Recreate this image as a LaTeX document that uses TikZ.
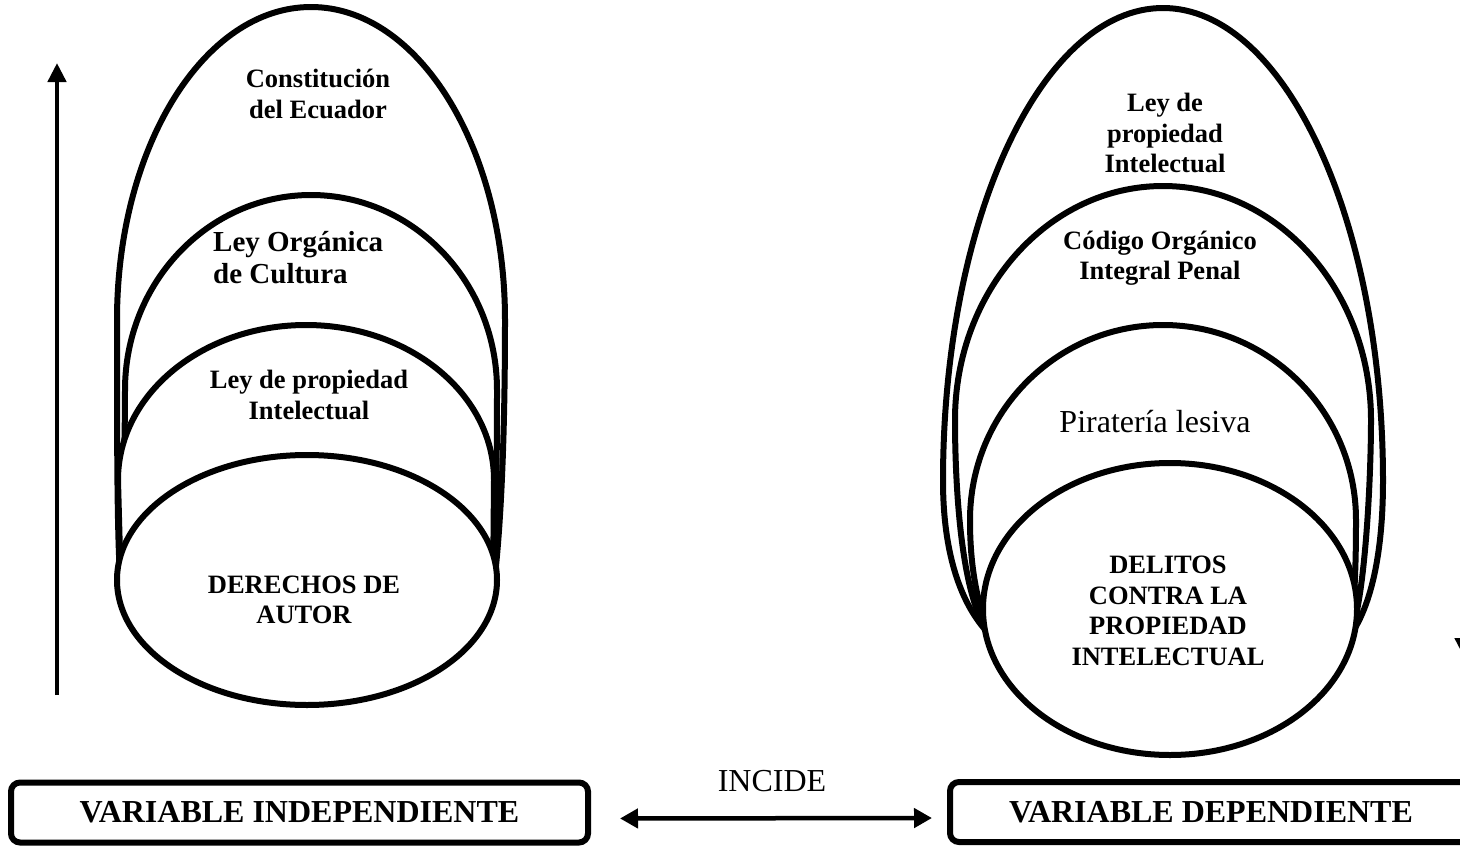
\documentclass[tikz,border=0pt]{standalone}
\usepackage{fontspec}
\setmainfont{Liberation Serif}
\usetikzlibrary{arrows.meta}

\begin{document}
\begin{tikzpicture}[x=1pt,y=-1pt]

\tikzset{shell/.style = {draw, fill=white, line width=6pt, line join=round}}
\tikzset{txt/.style = {align=center, inner sep=0pt, font=\fontsize{26.5}{30.5}\selectfont\bfseries}}
\tikzset{plain/.style = {inner sep=0pt, font=\fontsize{32}{36}\selectfont}}
\tikzset{varbox/.style = {draw, rounded corners=9pt, line width=6pt, minimum height=60pt, font=\fontsize{32}{36}\selectfont\bfseries}}
\tikzset{bigarrow/.style = {line width=4.5pt, -{Triangle[length=19pt,width=18pt]}}}

\useasboundingbox (0,0) rectangle (1460,846);
\clip (0,0) rectangle (1460,846);

%left shells
\draw[shell] (121,592) .. controls (117,540) and (117,450) .. (117,320) arc[start angle=180, end angle=0, x radius=194pt, y radius=313pt] .. controls (505,450) and (500,540) .. (493,592) -- cycle;
\draw[shell] (121,592) .. controls (121,540) and (125,460) .. (125,390) arc[start angle=180, end angle=0, x radius=186pt, y radius=195pt] .. controls (497,460) and (496,540) .. (493,592) -- cycle;
\draw[shell] (121,592) -- (118,480) arc[start angle=180, end angle=0, x radius=188pt, y radius=155pt] -- (493,592) -- cycle;
\draw[shell] (307,580) ellipse [x radius=190pt, y radius=125pt];

%right shells
\draw[shell] (991,636) .. controls (955,600) and (943,540) .. (943,481) arc[start angle=180, end angle=0, x radius=220pt, y radius=473pt] .. controls (1383,540) and (1375,600) .. (1350,636) -- cycle;
\draw[shell] (991,636) .. controls (960,600) and (955,480) .. (955,420) arc[start angle=180, end angle=0, x radius=208pt, y radius=234pt] .. controls (1371,480) and (1365,600) .. (1350,636) -- cycle;
\draw[shell] (991,636) .. controls (975,600) and (970,560) .. (970,520) arc[start angle=180, end angle=0, x radius=193pt, y radius=195pt] .. controls (1356,560) and (1355,600) .. (1350,636) -- cycle;
\draw[shell] (1170,609) ellipse [x radius=187pt, y radius=146pt];

%texts
\node[txt] (const) at (318,94) {Constituci\'on\\del Ecuador};
\node[txt, align=left, anchor=west, font=\fontsize{29}{32}\selectfont\bfseries] (cultura) at (213,258) {Ley Org\'anica\\de Cultura};
\node[txt] (lpi) at (309,395) {Ley de propiedad\\Intelectual};
\node[txt] (autor) at (304,600) {DERECHOS DE\\AUTOR};
\node[txt] (lpi2) at (1165,133) {Ley de\\propiedad\\Intelectual};
\node[txt] (coip) at (1160,258) {C\'odigo Org\'anico\\Integral Penal};
\node[plain] (pirat) at (1155,422) {Pirater\'ia lesiva};
\node[txt] (delitos) at (1168,611) {DELITOS\\CONTRA LA\\PROPIEDAD\\INTELECTUAL};

%boxes
\node[varbox, minimum width=577pt] (vi) at (299.5,812.5) {VARIABLE INDEPENDIENTE};
\node[varbox, minimum width=522pt] (vd) at (1211,812) {VARIABLE DEPENDIENTE};
\node[plain] (incide) at (772,781) {INCIDE};

%arrows
\coordinate (up0) at (57,695);
\coordinate (up1) at (57,63);
\coordinate (dn0) at (1464,60);
\coordinate (dn1) at (1464,657);
\draw[bigarrow] (up0) -- (up1);
\draw[bigarrow] (dn0) -- (dn1);
\draw[line width=4.5pt, {Triangle[length=18pt,width=19pt]}-{Triangle[length=18pt,width=19pt]}, shorten <=29pt, shorten >=15pt] ([yshift=-6pt]vi.east) -- ([yshift=-6pt]vd.west);

\end{tikzpicture}
\end{document}
